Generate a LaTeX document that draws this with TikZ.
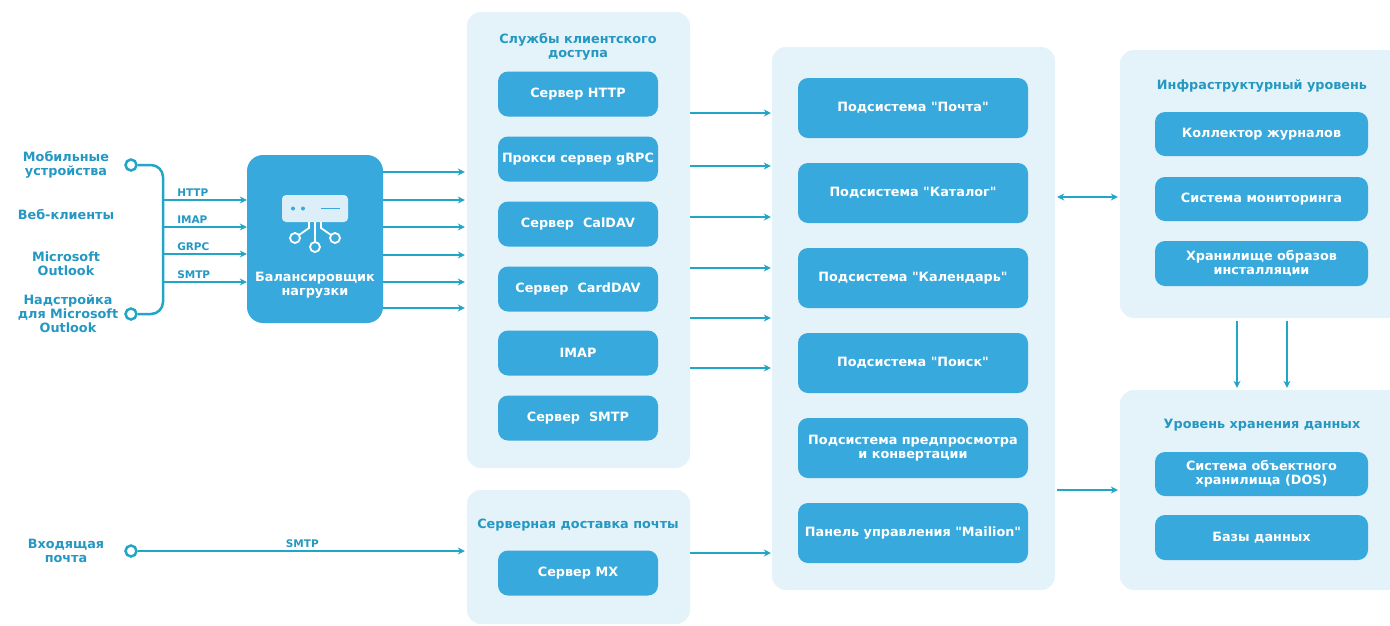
\documentclass[tikz,border=0pt]{standalone}
\usepackage{fontspec}
\setmainfont{DejaVu Sans}[Ligatures=TeXOff]
\usetikzlibrary{arrows.meta,calc}
\definecolor{boxblue}{HTML}{38A9DC}
\definecolor{panelbg}{HTML}{E4F2F9}
\definecolor{linec}{HTML}{22A6C8}
\definecolor{titlec}{HTML}{2598C2}
\definecolor{iconbg}{HTML}{DCEFF9}
\begin{document}
\begin{tikzpicture}[x=1pt,y=-1pt,
  panel/.style={fill=panelbg, rounded corners=14pt, draw=none, inner sep=0},
  box/.style={fill=boxblue, rounded corners=10pt, text=white, draw=none,
    font=\bfseries\fontsize{12.8}{14}\selectfont, align=center, inner sep=0},
  ttl/.style={text=titlec, font=\bfseries\fontsize{12.8}{14}\selectfont, align=center},
  lbl/.style={text=titlec, font=\bfseries\fontsize{12.8}{14}\selectfont, align=center},
  proto/.style={text=titlec, font=\bfseries\fontsize{10.5}{12}\selectfont, inner sep=1pt},
  conn/.style={draw=linec, line width=2.5pt},
  arr/.style={draw=linec, line width=2.5pt, -{Stealth[length=7pt,width=7pt]}},
  darr/.style={draw=linec, line width=2.5pt, {Stealth[length=7pt,width=7pt]}-{Stealth[length=7pt,width=7pt]}},
  port/.style={circle, draw=linec, line width=2.5pt, fill=white, minimum size=11pt, inner sep=0},
  icn/.style={draw=white, line width=1.8pt}
]
\useasboundingbox (0,0) rectangle (1390,625);
\clip (0,0) rectangle (1390,625);
\fill[white] (0,0) rectangle (1390,625);

% ---------- panels ----------
\node[panel, minimum width=223pt, minimum height=456pt] (cas) at (578.5,240) {};
\node[panel, minimum width=223pt, minimum height=134pt] (mxp) at (578.5,557) {};
\node[panel, minimum width=283pt, minimum height=543pt] (mid) at (913.5,318.5) {};
\node[panel, minimum width=290pt, minimum height=268pt] (infra) at (1265,184) {};
\node[panel, minimum width=290pt, minimum height=200pt] (stor) at (1265,490) {};

% ---------- titles ----------
\node[ttl] (castitle) at (578,47) {Службы клиентского\\доступа};
\node[ttl] (mxtitle) at (578,525) {Серверная доставка почты};
\node[ttl] (infratitle) at (1262,86) {Инфраструктурный уровень};
\node[ttl] (stortitle) at (1262,425) {Уровень хранения данных};

% ---------- CAS boxes ----------
\node[box, minimum width=160pt, minimum height=45pt] (http) at (578,94) {Сервер HTTP};
\node[box, minimum width=160pt, minimum height=45pt] (grpc) at (578,159) {Прокси сервер gRPC};
\node[box, minimum width=160pt, minimum height=45pt] (caldav) at (578,224) {Сервер\ \ CalDAV};
\node[box, minimum width=160pt, minimum height=45pt] (carddav) at (578,289) {Сервер\ \ CardDAV};
\node[box, minimum width=160pt, minimum height=45pt] (imap) at (578,353) {IMAP};
\node[box, minimum width=160pt, minimum height=45pt] (smtp) at (578,418) {Сервер\ \ SMTP};
\node[box, minimum width=160pt, minimum height=45pt] (mx) at (578,573) {Сервер MX};

% ---------- middle boxes ----------
\node[box, minimum width=230pt, minimum height=60pt] (mail) at (913,108) {Подсистема "Почта"};
\node[box, minimum width=230pt, minimum height=60pt] (cat) at (913,193) {Подсистема "Каталог"};
\node[box, minimum width=230pt, minimum height=60pt] (cal) at (913,278) {Подсистема "Календарь"};
\node[box, minimum width=230pt, minimum height=60pt] (search) at (913,363) {Подсистема "Поиск"};
\node[box, minimum width=230pt, minimum height=60pt] (prev) at (913,448) {Подсистема предпросмотра\\и конвертации};
\node[box, minimum width=230pt, minimum height=60pt] (panelm) at (913,533) {Панель управления "Mailion"};

% ---------- infra / storage boxes ----------
\node[box, minimum width=213pt, minimum height=44pt] (logs) at (1261.5,134) {Коллектор журналов};
\node[box, minimum width=213pt, minimum height=44pt] (mon) at (1261.5,199) {Система мониторинга};
\node[box, minimum width=213pt, minimum height=45pt] (img) at (1261.5,263.5) {Хранилище образов\\инсталляции};
\node[box, minimum width=213pt, minimum height=44pt] (dos) at (1261.5,474) {Система объектного\\хранилища (DOS)};
\node[box, minimum width=213pt, minimum height=45pt] (db) at (1261.5,537.5) {Базы данных};

% ---------- load balancer ----------
\node[box, rounded corners=16pt, minimum width=136pt, minimum height=168pt] (lb) at (315,239) {};
\node[fill=iconbg, rounded corners=4pt, minimum width=66pt, minimum height=27pt, inner sep=0] (srv) at (315,208.5) {};
\fill[boxblue] (293,208.5) circle (2pt) (303,208.5) circle (2pt);
\draw[boxblue, line width=1.8pt] (321,208.5) -- (340,208.5);
\draw[icn] (315,222) -- (315,242);
\draw[icn] (309,222) -- (309,228) -- (299,235);
\draw[icn] (321,222) -- (321,228) -- (331,235);
\draw[icn] (315,247) circle (5pt) (295,238) circle (5pt) (335,238) circle (5pt);
\node[box, fill=none] (lbtext) at (315,285) {Балансировщик\\нагрузки};

% ---------- left clients ----------
\node[lbl] (mob) at (66,165) {Мобильные\\устройства};
\node[lbl] (web) at (66,215) {Веб-клиенты};
\node[lbl] (mso) at (66,264) {Microsoft\\Outlook};
\node[lbl] (add) at (68,314) {Надстройка\\для Microsoft\\Outlook};
\node[lbl] (inc) at (66,551) {Входящая\\почта};

\node[port] (p1) at (131,165) {};
\node[port] (p2) at (131,314) {};
\node[port] (p3) at (131,551) {};
\coordinate (bx) at (163,240);
\draw[conn, rounded corners=12pt] (p1.east) -- (p1.east -| bx) -- (p2.east -| bx) -- (p2.east);

\foreach \y/\t in {200/HTTP,227/IMAP,254/GRPC,282/SMTP}
  \draw[arr] (bx |- 0,\y) -- (lb.west |- 0,\y) node[proto, pos=0, anchor=south west, xshift=12pt, yshift=1pt] {\t};

\foreach \y in {172,200,227,255,282,308}
  \draw[arr, shorten >=2pt] (lb.east |- 0,\y) -- (cas.west |- 0,\y);

\foreach \y in {113,166,217,268,318,368}
  \draw[arr, shorten >=1pt] (cas.east |- 0,\y) -- (mid.west |- 0,\y);

\draw[arr, shorten >=2pt] (p3.east) -- (mxp.west |- p3) node[proto, midway, above, yshift=1pt] {SMTP};
\draw[arr, shorten >=1pt] (mxp.east |- 0,553) -- (mid.west |- 0,553);

\draw[darr, shorten >=2pt, shorten <=2pt] (mid.east |- 0,197) -- (infra.west |- 0,197);
\draw[arr, shorten >=2pt, shorten <=2pt] (mid.east |- 0,490) -- (stor.west |- 0,490);
\draw[arr, shorten >=2pt, shorten <=3pt] (infra.south -| 1237,0) -- (stor.north -| 1237,0);
\draw[arr, shorten >=2pt, shorten <=3pt] (infra.south -| 1287,0) -- (stor.north -| 1287,0);
\end{tikzpicture}
\end{document}
